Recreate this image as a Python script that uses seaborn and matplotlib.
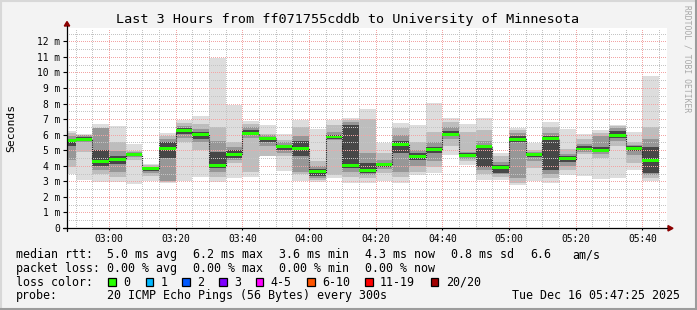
import matplotlib
matplotlib.use("Agg")
import matplotlib.pyplot as plt
import matplotlib.dates as mdates
from matplotlib.ticker import MultipleLocator, FixedLocator, FuncFormatter
from matplotlib.patches import Rectangle, Polygon
from matplotlib.lines import Line2D
import numpy as np
import pandas as pd
import seaborn as sns

# ---------------- data ----------------
bar_start = pd.date_range("2025-12-16 02:45", periods=36, freq="5min")
view_start = pd.Timestamp("2025-12-16 02:47:25")
view_end = pd.Timestamp("2025-12-16 05:47:25")

smoke_min = [3.47, 3.1, 2.94, 2.94, 2.85, 3.04, 2.88, 3.0, 3.3, 2.94, 3.22, 3.3,
             4.6, 3.68, 3.04, 2.98, 3.2, 2.9, 2.9, 3.0, 2.9, 3.4, 3.55, 4.7,
             4.05, 3.1, 3.1, 2.78, 3.0, 2.9, 3.43, 3.35, 3.17, 3.2, 3.75, 3.0]
smoke_max = [6.26, 6.06, 6.7, 6.58, 5.42, 4.14, 6.13, 6.94, 7.18, 10.9, 7.89, 6.86,
             6.64, 6.06, 6.92, 6.38, 6.92, 7.07, 7.67, 5.45, 6.75, 6.64, 8.05, 7.07,
             6.71, 7.07, 4.82, 6.43, 5.45, 6.79, 6.38, 6.04, 6.3, 6.64, 6.2, 9.8]
band2_lo = [3.9, 4.9, 3.45, 3.3, 4.35, 3.35, 2.95, 5.5, 5.0, 3.3, 4.2, 3.6,
            4.65, 4.6, 3.5, 3.1, 3.4, 3.3, 3.2, 3.55, 3.3, 3.6, 3.9, 5.3,
            4.3, 3.5, 3.3, 2.9, 3.85, 3.2, 3.75, 4.75, 4.5, 5.3, 4.2, 3.2]
band2_hi = [6.1, 6.0, 6.43, 5.5, 4.95, 4.05, 5.9, 6.75, 6.7, 6.5, 5.55, 6.7,
            6.05, 5.65, 6.5, 4.3, 6.6, 6.95, 7.0, 4.8, 6.4, 5.5, 6.2, 6.8,
            6.2, 6.3, 4.6, 6.3, 5.0, 6.5, 5.05, 5.7, 6.1, 6.55, 5.5, 6.5]
band3_lo = [4.4, 5.5, 3.75, 3.6, 4.55, 3.55, 3.05, 5.8, 5.5, 3.6, 4.35, 5.8,
            5.3, 4.85, 3.6, 3.2, 5.65, 3.6, 3.4, 3.8, 3.6, 4.0, 4.3, 5.7,
            4.45, 3.7, 3.45, 3.2, 4.3, 3.5, 4.0, 4.9, 4.75, 5.6, 4.7, 3.4]
band3_hi = [5.9, 5.95, 6.4, 4.95, 4.9, 3.95, 5.75, 6.55, 6.35, 5.6, 5.2, 6.5,
            5.95, 5.5, 5.9, 4.0, 6.15, 6.8, 4.85, 4.4, 5.95, 5.0, 5.5, 6.5,
            4.9, 5.6, 4.25, 6.1, 4.9, 6.1, 4.75, 5.4, 5.9, 6.4, 5.35, 5.7]
band4_lo = [5.3, 5.6, 4.0, 4.1, 4.62, 3.68, 4.5, 6.05, 5.75, 3.85, 4.5, 5.95,
            5.55, 5.0, 4.65, 3.35, 5.75, 3.85, 3.55, 3.95, 4.85, 4.4, 4.8, 5.9,
            4.55, 3.95, 3.55, 5.5, 4.55, 3.7, 4.25, 5.0, 4.9, 5.8, 4.95, 3.55]
band4_hi = [5.7, 5.85, 5.04, 4.65, 4.82, 3.9, 5.55, 6.4, 6.15, 4.9, 5.0, 6.3,
            5.88, 5.35, 5.6, 3.8, 6.0, 6.6, 4.2, 4.2, 5.6, 4.8, 5.2, 6.25,
            4.8, 5.35, 4.05, 5.9, 4.8, 5.9, 4.6, 5.25, 5.2, 6.25, 5.25, 5.2]
median_rtt = [5.6, 5.72, 4.29, 4.43, 4.71, 3.82, 5.14, 6.26, 6.04, 4.0, 4.75, 6.07,
              5.77, 5.25, 5.1, 3.62, 5.85, 4.0, 3.69, 4.07, 5.38, 4.57, 5.03, 6.04,
              4.67, 5.22, 3.92, 5.72, 4.72, 5.74, 4.45, 5.08, 5.0, 5.96, 5.12, 4.33]

loss_labels = ["0", "1", "2", "3", "4-5", "6-10", "11-19", "20/20"]
loss_colors = ["#26ff00", "#00b8ff", "#0059ff", "#7e00ff", "#ff00ff", "#ff5500", "#ff0000", "#a10000"]

title = "Last 3 Hours from ff071755cddb to University of Minnesota"
row1 = [(16, "median rtt:"), (107.3, "5.0 ms avg"), (193.3, "6.2 ms max"), (279.3, "3.6 ms min"),
        (365, "4.3 ms now"), (451, "0.8 ms sd"), (530, "6.6"), (572.3, "am/s")]
row2 = [(16, "packet loss:"), (107.3, "0.00 % avg"), (193.3, "0.00 % max"),
        (279.3, "0.00 % min"), (365, "0.00 % now")]
probe_text = "20 ICMP Echo Pings (56 Bytes) every 300s"
stamp_text = "Tue Dec 16 05:47:25 2025"

# ---------------- figure ----------------
sns.set_theme(style="white")
plt.rcParams["font.family"] = ["DejaVu Sans Mono", "DejaVu Sans"]

W, H = 697, 310
fig = plt.figure(figsize=(W / 100, H / 100), dpi=100)
fig.patch.set_facecolor("#f3f3f3")
ax = fig.add_axes([67 / W, 1 - 228 / H, 600 / W, 200 / H])
ax.set_facecolor("white")

x = mdates.date2num(bar_start.to_pydatetime())
wd = 5 / 1440.0


def band(lo, hi, color):
    lo = np.asarray(lo, float)
    hi = np.asarray(hi, float)
    ax.bar(x, hi - lo, bottom=lo, width=wd, align="edge", color=color,
           linewidth=0, zorder=1)


band(smoke_min, smoke_max, "#dddddd")
band(band2_lo, band2_hi, "#bdbdbd")
band(band3_lo, band3_hi, "#979797")
band(band4_lo, band4_hi, "#474747")

med = np.asarray(median_rtt, float)
edges = np.append(x, x[-1] + wd)
medext = np.append(med, med[-1])
sns.lineplot(x=edges, y=medext, drawstyle="steps-post", color="#202020",
             lw=0.8, ax=ax, estimator=None, sort=False, zorder=2.8)
ax.lines[-1].set_linestyle((0, (1, 1)))
ax.bar(x, 0.19, bottom=med - 0.095, width=wd, align="edge", color="#26ff00",
       linewidth=0, zorder=3)

ax.set_xlim(mdates.date2num(view_start.to_pydatetime()), mdates.date2num(view_end.to_pydatetime()))
ax.set_ylim(0, 12.86)
ax.set_xlabel("")
ax.set_ylabel("")

ax.xaxis.set_major_locator(mdates.MinuteLocator(byminute=[0, 20, 40]))
ax.xaxis.set_minor_locator(mdates.MinuteLocator(byminute=[5, 10, 15, 25, 30, 35, 45, 50, 55]))
ax.xaxis.set_major_formatter(mdates.DateFormatter("%H:%M"))
ax.yaxis.set_major_locator(MultipleLocator(1))
ax.yaxis.set_minor_locator(FixedLocator(np.arange(0.5, 13.0, 1.0)))
ax.yaxis.set_major_formatter(FuncFormatter(lambda v, p: "0" if abs(v) < 1e-9 else f"{v:.0f} m"))

ax.grid(True, which="minor", color="#c4c4c4", linestyle=(0, (1, 1.5)), linewidth=0.72)
ax.grid(True, which="major", color="#f2a4a4", linestyle=(0, (1, 1.5)), linewidth=0.72)
ax.set_axisbelow(False)

for s in ax.spines.values():
    s.set_visible(False)
ax.tick_params(axis="y", which="major", left=True, length=2.9, width=0.8, color="black",
               pad=2.2, labelsize=6.9, labelcolor="black", direction="out")
ax.tick_params(axis="x", which="major", bottom=True, length=1.5, width=0.8, color="black",
               pad=2.6, labelsize=6.9, labelcolor="black", direction="out")
ax.tick_params(which="minor", length=0)

for axis in (ax.xaxis, ax.yaxis):
    for t in axis.get_major_ticks() + axis.get_minor_ticks():
        t.gridline.set_antialiased(False)


def fx(px):
    return px / W


def fy(py):
    return 1 - py / H


# axis lines and arrows
fig.add_artist(Line2D([fx(63), fx(667)], [fy(228.3), fy(228.3)], color="black", lw=0.9,
                      transform=fig.transFigure))
fig.add_artist(Line2D([fx(67), fx(67)], [fy(231), fy(26)], color="black", lw=0.9,
                      transform=fig.transFigure))
fig.add_artist(Polygon([[fx(64.3), fy(26)], [fx(69.7), fy(26)], [fx(67), fy(21.5)]],
                       closed=True, color="#8b0000", transform=fig.transFigure))
fig.add_artist(Polygon([[fx(668), fy(225.6)], [fx(668), fy(231)], [fx(673), fy(228.3)]],
                       closed=True, color="#8b0000", transform=fig.transFigure))

# texts
fig.text(fx(348), fy(19), title, ha="center", va="center", fontsize=9.7, color="black")
fig.text(fx(11), fy(128), "Seconds", ha="center", va="center", rotation=90, fontsize=8.2,
         color="black")
fig.text(fx(687.5), fy(58.5), "RRDTOOL / TOBI OETIKER", ha="center", va="center",
         rotation=270, fontsize=5.8, color="#a8a8a8")

LFS = 8.35
for xp, t in row1:
    fig.text(fx(xp), fy(258.3), t, ha="left", va="baseline", fontsize=LFS, color="black")
for xp, t in row2:
    fig.text(fx(xp), fy(271.7), t, ha="left", va="baseline", fontsize=LFS, color="black")
fig.text(fx(16), fy(285.7), "loss color:", ha="left", va="baseline", fontsize=LFS, color="black")
box_x = [108.3, 145.7, 182.3, 219, 255.7, 307.3, 365, 430.7]
for bx, lab, col in zip(box_x, loss_labels, loss_colors):
    fig.add_artist(Rectangle((fx(bx), fy(286)), 7.7 / W, 7.7 / H, facecolor=col,
                             edgecolor="black", lw=0.9, transform=fig.transFigure))
    fig.text(fx(bx + 15), fy(285.7), lab, ha="left", va="baseline", fontsize=LFS, color="black")
fig.text(fx(16), fy(299), "probe:", ha="left", va="baseline", fontsize=LFS, color="black")
fig.text(fx(107.3), fy(299), probe_text, ha="left", va="baseline", fontsize=LFS, color="black")
fig.text(fx(680), fy(299), stamp_text, ha="right", va="baseline", fontsize=LFS, color="black")

# frame
fig.add_artist(Line2D([0, 1], [fy(0.5), fy(0.5)], color="#d8d8d8", lw=1.5, transform=fig.transFigure))
fig.add_artist(Line2D([fx(0.5), fx(0.5)], [0, 1], color="#d8d8d8", lw=1.5, transform=fig.transFigure))
fig.add_artist(Line2D([0, 1], [fy(309), fy(309)], color="#9c9c9c", lw=1.5, transform=fig.transFigure))
fig.add_artist(Line2D([fx(696), fx(696)], [0, 1], color="#9c9c9c", lw=1.5, transform=fig.transFigure))

fig.savefig("out.png", dpi=100, facecolor=fig.get_facecolor())
